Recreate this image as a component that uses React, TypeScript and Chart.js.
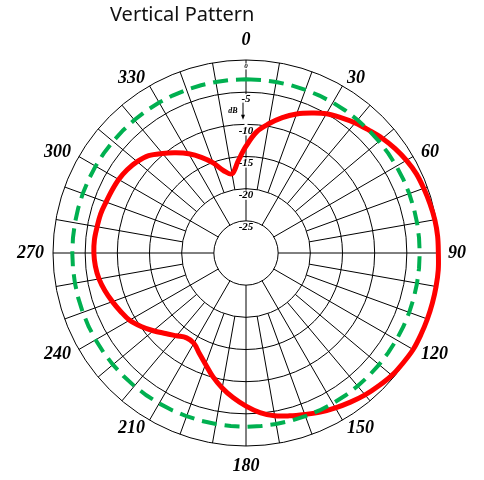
import React, { useEffect, useRef } from 'react';
import { Chart, registerables } from 'chart.js';

Chart.register(...registerables);

// Azimuth of each sample (degrees, clockwise from top)
const ANGLES = [
  0, 5, 10, 15, 20, 25, 30, 35, 40, 45, 50, 55,
  60, 65, 70, 75, 80, 85, 90, 95, 100, 105, 110, 115,
  120, 125, 130, 135, 140, 145, 150, 155, 160, 165, 170, 175,
  180, 185, 190, 195, 200, 205, 210, 215, 220, 225, 230, 235,
  240, 245, 250, 255, 260, 265, 270, 275, 280, 285, 290, 295,
  300, 305, 310, 315, 320, 325, 330, 335, 340, 345, 350, 355,
];

// Vertical pattern (dB), red curve
const VERTICAL_DB = [
  -13.4, -11.1, -9.6, -8.2, -7.0, -6.0, -5.0, -4.3, -3.6, -3.0, -2.3, -1.7,
  -1.2, -0.8, -0.6, -0.4, -0.2, -0.1, -0.1, 0, 0, 0, 0, 0,
  0, -0.2, -0.4, -0.8, -1.2, -1.7, -2.2, -2.7, -3.3, -3.8, -4.3, -5.1,
  -6.2, -7.4, -8.7, -10.1, -11.6, -12.8, -13.8, -13.9, -13.2, -12.3, -11.2, -10.1,
  -9.1, -8.5, -7.9, -7.3, -6.8, -6.5, -6.35, -6.35, -6.5, -6.6, -6.85, -7.0,
  -7.15, -7.45, -7.9, -8.6, -9.8, -11.0, -12.2, -13.6, -15.1, -16.8, -17.5, -15.7,
];

// -3 dB reference circle (green dashed)
const REFERENCE_DB = [
  -3, -3, -3, -3, -3, -3, -3, -3, -3, -3, -3, -3,
  -3, -3, -3, -3, -3, -3, -3, -3, -3, -3, -3, -3,
  -3, -3, -3, -3, -3, -3, -3, -3, -3, -3, -3, -3,
  -3, -3, -3, -3, -3, -3, -3, -3, -3, -3, -3, -3,
  -3, -3, -3, -3, -3, -3, -3, -3, -3, -3, -3, -3,
  -3, -3, -3, -3, -3, -3, -3, -3, -3, -3, -3, -3,
];

const ANGLE_LABELS = [0, 30, 60, 90, 120, 150, 180, 210, 240, 270, 300, 330];
const SPOKE_ANGLES = [
  0, 10, 20, 30, 40, 50, 60, 70, 80, 90, 100, 110,
  120, 130, 140, 150, 160, 170, 180, 190, 200, 210, 220, 230,
  240, 250, 260, 270, 280, 290, 300, 310, 320, 330, 340, 350,
];
const DB_TICKS = [0, -5, -10, -15, -20, -25];
const DB_MIN = -30;
const DB_MAX = 0;
const TITLE = 'Vertical Pattern';
const UNIT = 'dB';

const SERIF = '"Liberation Serif", "DejaVu Serif", serif';

const polarDecor = {
  id: 'polarDecor',
  beforeDatasetsDraw(chart: any) {
    const s = chart.scales.r;
    const ctx: CanvasRenderingContext2D = chart.ctx;
    const n = chart.data.labels.length;
    const step = 360 / n;
    const rOuter = s.getDistanceFromCenterForValue(DB_MAX);
    const rInner = s.getDistanceFromCenterForValue(-25);
    const rMid = s.getDistanceFromCenterForValue(-20);
    const cx = s.xCenter;
    const cy = s.yCenter;

    ctx.save();
    // spokes
    ctx.strokeStyle = '#000';
    ctx.lineWidth = 1;
    for (const a of SPOKE_ANGLES) {
      const idx = a / step;
      const r0 = a % 30 === 0 ? rInner : rMid;
      const p0 = s.getPointPosition(idx, r0);
      const p1 = s.getPointPosition(idx, rOuter);
      ctx.beginPath();
      ctx.moveTo(p0.x, p0.y);
      ctx.lineTo(p1.x, p1.y);
      ctx.stroke();
    }

    // dB tick labels
    ctx.textAlign = 'center';
    ctx.textBaseline = 'middle';
    const labelY = (v: number) => cy - s.getDistanceFromCenterForValue(v) + 6.5;
    // clear the spoke between -5 and -10 labels (arrow area)
    ctx.fillStyle = '#fff';
    ctx.fillRect(cx - 1.5, labelY(-5) + 4, 3, labelY(-10) - labelY(-5) - 8);
    for (const v of DB_TICKS) {
      const fs = v === 0 ? 7 : 11;
      ctx.font = `italic bold ${fs}px ${SERIF}`;
      const label = String(v);
      const y = labelY(v);
      const w = ctx.measureText(label).width;
      ctx.fillStyle = '#fff';
      ctx.fillRect(cx - w / 2 - 1, y - fs * 0.42, w + 2, fs * 0.84);
      ctx.fillStyle = '#000';
      ctx.fillText(label, cx, y);
    }

    // dB unit + arrow
    const ax = cx - 3;
    const ay0 = labelY(-5) + 4;
    const ay1 = labelY(-5) + 21;
    ctx.strokeStyle = '#000';
    ctx.lineWidth = 1;
    ctx.beginPath();
    ctx.moveTo(ax, ay0);
    ctx.lineTo(ax, ay1 - 4);
    ctx.stroke();
    ctx.fillStyle = '#000';
    ctx.beginPath();
    ctx.moveTo(ax - 2, ay1 - 5);
    ctx.lineTo(ax + 2, ay1 - 5);
    ctx.lineTo(ax, ay1);
    ctx.closePath();
    ctx.fill();
    ctx.font = `italic bold 8px ${SERIF}`;
    ctx.textAlign = 'center';
    ctx.fillText(UNIT, cx - 13, labelY(-5) + 12);

    // angle labels
    ctx.font = `italic bold 18px ${SERIF}`;
    ctx.textBaseline = 'middle';
    for (const a of ANGLE_LABELS) {
      const p = s.getPointPosition(a / step, rOuter + 9);
      const sn = Math.sin((a * Math.PI) / 180);
      const align: CanvasTextAlign = Math.abs(sn) < 0.01 ? 'center' : sn > 0 ? 'left' : 'right';
      let y = p.y;
      if (a === 0) y -= 11;
      else if (a === 180) y += 11;
      ctx.textAlign = align;
      ctx.fillText(String(a), p.x, y);
    }

    // title
    ctx.font = '20px "Noto Sans", "Open Sans", sans-serif';
    ctx.textAlign = 'left';
    ctx.textBaseline = 'alphabetic';
    ctx.fillStyle = '#111';
    ctx.fillText(TITLE, 110, 21);
    ctx.restore();
  },
};

export default function App() {
  const ref = useRef<HTMLCanvasElement>(null);

  useEffect(() => {
    if (!ref.current) return;
    const chart = new Chart(ref.current, {
      type: 'radar',
      data: {
        labels: ANGLES.map((a) => String(a)),
        datasets: [
          {
            label: 'Reference',
            data: REFERENCE_DB,
            borderColor: '#00B050',
            borderWidth: 4,
            borderDash: [15, 8],
            pointRadius: 0,
            fill: false,
            tension: 0,
          },
          {
            label: 'Vertical',
            data: VERTICAL_DB,
            borderColor: '#FF0000',
            borderWidth: 5,
            pointRadius: 0,
            fill: false,
            tension: 0.35,
            borderJoinStyle: 'round',
          },
        ],
      },
      options: {
        responsive: false,
        animation: false,
        layout: { padding: { left: 53, right: 45, top: 60, bottom: 34 } },
        plugins: {
          legend: { display: false },
          tooltip: { enabled: false },
          title: { display: false },
        },
        scales: {
          r: {
            min: DB_MIN,
            max: DB_MAX,
            startAngle: 0,
            ticks: { stepSize: 5, display: false },
            grid: { circular: true, color: '#000', lineWidth: 1 },
            angleLines: { display: false },
            pointLabels: { display: false },
          },
        },
      } as any,
      plugins: [polarDecor],
    });
    return () => chart.destroy();
  }, []);

  return (
    <div style={{ position: 'absolute', left: 0, top: 0, width: 484, height: 480, background: '#fff' }}>
      <canvas ref={ref} width={484} height={480} style={{ display: 'block', width: 484, height: 480 }} />
    </div>
  );
}
